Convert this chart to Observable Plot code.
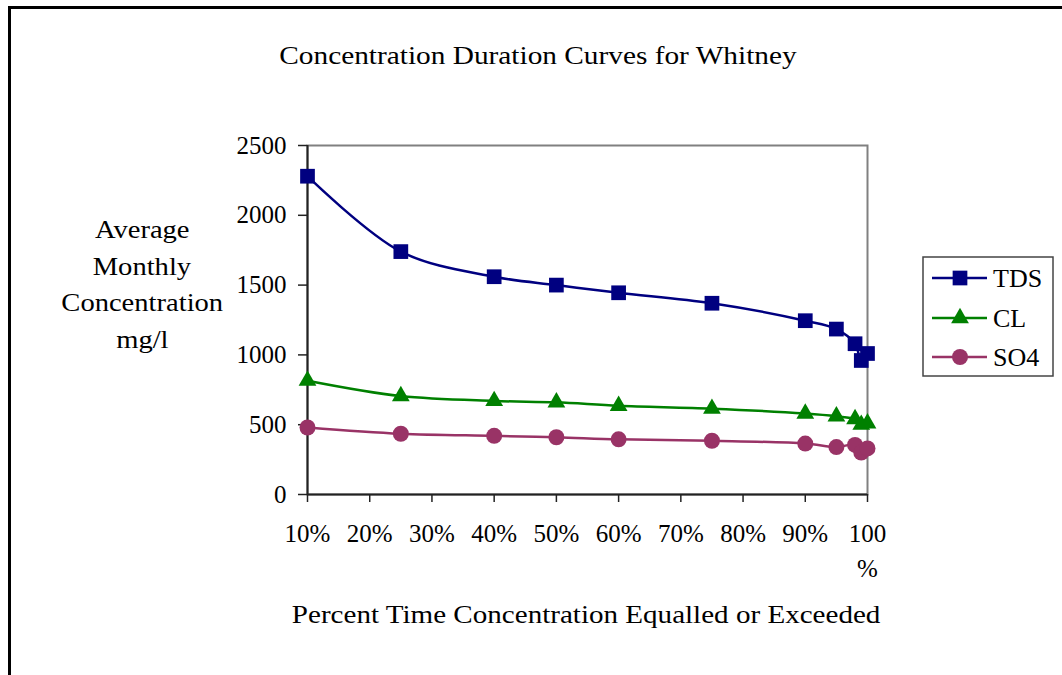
<!DOCTYPE html>
<html>
<head>
<meta charset="utf-8">
<script src="https://cdn.jsdelivr.net/npm/d3@7"></script>
<script src="https://cdn.jsdelivr.net/npm/@observablehq/plot@0.6"></script>
<style>
  html, body { margin: 0; padding: 0; background: #fff; }
  #wrap { position: relative; width: 1062px; height: 675px; overflow: hidden; font-family: "Liberation Serif", "Times New Roman", serif; color: #000; }
  #wrap svg.plot { position: absolute; left: 0; top: 0; }
  .frameline { position: absolute; left: 8px; top: 6px; width: 1100px; height: 700px; border-left: 3px solid #000; border-top: 3px solid #000; box-sizing: border-box; }
  .txt { position: absolute; white-space: nowrap; font-size: 25.5px; line-height: 1; transform-origin: center center; }
</style>
</head>
<body>
<div id="wrap">
  <div class="frameline"></div>
</div>
<script>
// ---- data ----
const percentTime = [10, 25, 40, 50, 60, 75, 90, 95, 98, 99, 100];
const tds = [2280, 1740, 1560, 1500, 1445, 1370, 1245, 1185, 1080, 960, 1010];
const cl  = [815, 705, 670, 660, 635, 615, 580, 560, 540, 500, 510];
const so4 = [480, 435, 420, 410, 395, 385, 365, 340, 355, 300, 330];
const seriesNames = ["TDS", "CL", "SO4"];
const seriesColors = ["#000080", "#008000", "#993366"];
const seriesSymbols = ["square", "triangle", "circle"];
const xTicks = [10, 20, 30, 40, 50, 60, 70, 80, 90, 100];
const yTicks = [0, 500, 1000, 1500, 2000, 2500];
const titleText = "Concentration Duration Curves for Whitney";
const yLabelLines = ["Average", "Monthly", "Concentration", "mg/l"];
const xLabelText = "Percent Time Concentration Equalled or Exceeded";

const seriesValues = [tds, cl, so4];
const rows = [];
seriesNames.forEach((name, i) => {
  percentTime.forEach((p, j) => rows.push({series: name, pct: p, value: seriesValues[i][j]}));
});

const symbolR = {square: 8.3, triangle: 6.6, circle: 8};

const marks = [
  Plot.frame({stroke: "#808080", strokeWidth: 2}),
  Plot.ruleX([10], {stroke: "#222", strokeWidth: 2}),
  Plot.ruleY([0], {stroke: "#222", strokeWidth: 2}),
  Plot.axisY({ticks: yTicks, tickSize: 9, tickPadding: 12, fontSize: 25, stroke: "#222", strokeWidth: 1.5, label: null, tickFormat: d => String(d)}),
  Plot.axisX({ticks: xTicks, tickSize: 8, tickPadding: 15, fontSize: 25, lineHeight: 1.4, stroke: "#222", strokeWidth: 1.5, label: null,
    tickFormat: d => d === 100 ? "100\n%" : d + "%"})
];
seriesNames.forEach((name, i) => {
  const data = rows.filter(r => r.series === name);
  marks.push(Plot.line(data, {x: "pct", y: "value", stroke: seriesColors[i], strokeWidth: 2.5, curve: "catmull-rom"}));
  marks.push(Plot.dot(data, {x: "pct", y: "value", fill: seriesColors[i], stroke: "none", symbol: seriesSymbols[i], r: symbolR[seriesSymbols[i]]}));
});

const chart = Plot.plot({
  width: 1062,
  height: 675,
  marginLeft: 307,
  marginRight: 195,
  marginTop: 145,
  marginBottom: 181,
  style: {fontFamily: "'Liberation Serif', 'Times New Roman', serif", fontSize: "25px", background: "transparent", color: "#000", overflow: "visible"},
  x: {domain: [10, 100]},
  y: {domain: [0, 2500]},
  marks
});
chart.classList.add("plot");
const wrap = document.getElementById("wrap");
wrap.appendChild(chart);

// ---- text overlays ----
function addText(str, cx, cy, scale) {
  const d = document.createElement("div");
  d.className = "txt";
  d.textContent = str;
  wrap.appendChild(d);
  const w = d.offsetWidth, h = d.offsetHeight;
  d.style.left = (cx - w / 2) + "px";
  d.style.top = (cy - h / 2) + "px";
  d.style.transform = `scaleX(${scale})`;
  return d;
}
addText(titleText, 538, 56, 1.15);
const yCenters = [230, 267, 303, 340];
yLabelLines.forEach((t, i) => addText(t, 142, yCenters[i], 1.12));
addText(xLabelText, 586, 615, 1.14);

// ---- legend ----
const leg = d3.select(wrap).append("svg")
  .attr("width", 134).attr("height", 124)
  .style("position", "absolute").style("left", "921px").style("top", "255px");
leg.append("rect").attr("x", 2).attr("y", 2).attr("width", 130).attr("height", 119)
  .attr("fill", "#fff").attr("stroke", "#444").attr("stroke-width", 1.5);
const legY = [23, 63, 102];
const symMap = {square: d3.symbolSquare, triangle: d3.symbolTriangle, circle: d3.symbolCircle};
seriesNames.forEach((name, i) => {
  const g = leg.append("g").attr("transform", `translate(0,${legY[i]})`);
  g.append("line").attr("x1", 11).attr("x2", 66).attr("y1", 0).attr("y2", 0)
    .attr("stroke", seriesColors[i]).attr("stroke-width", 2.5);
  const r = symbolR[seriesSymbols[i]];
  g.append("path").attr("transform", "translate(39,0)")
    .attr("d", d3.symbol(symMap[seriesSymbols[i]], Math.PI * r * r)())
    .attr("fill", seriesColors[i]);
  g.append("text").attr("x", 72).attr("y", 0).attr("dy", "0.35em")
    .attr("font-family", "'Liberation Serif', 'Times New Roman', serif").attr("font-size", 25)
    .attr("transform", "scale(1.04,1)").attr("transform-origin", "72 0")
    .text(name);
});
</script>
</body>
</html>
